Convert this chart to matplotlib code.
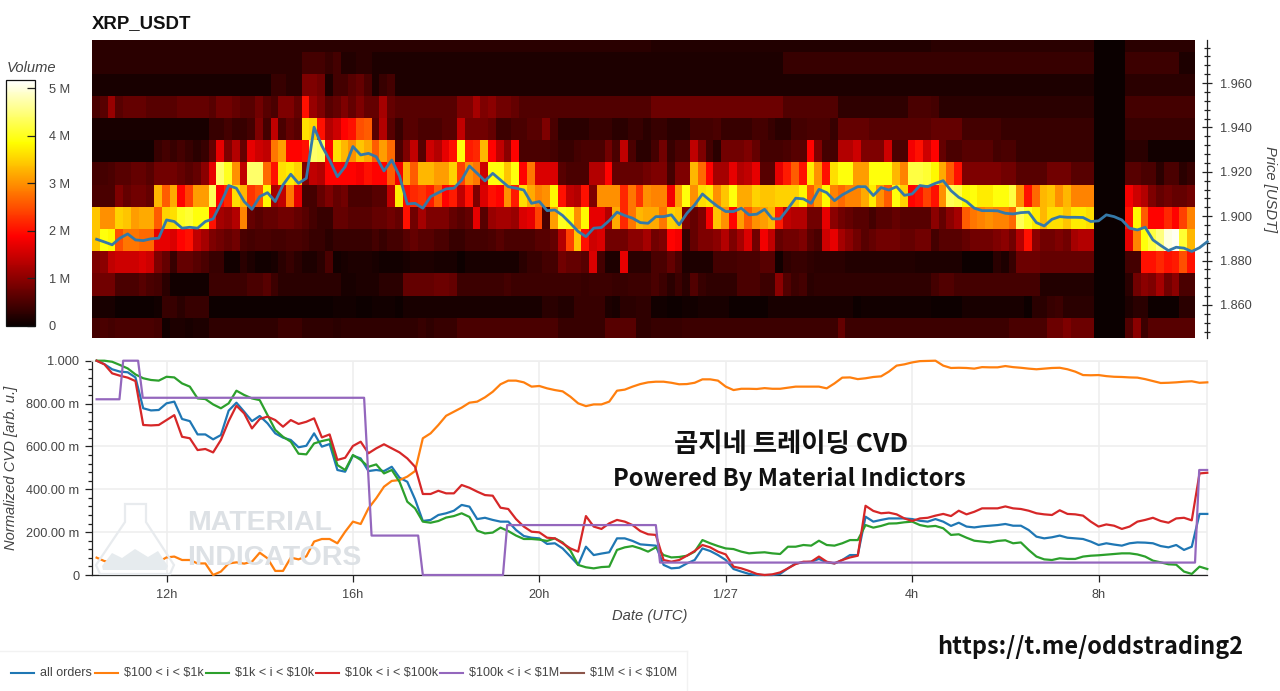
"""XRP_USDT order book heatmap with normalized CVD below it."""

import matplotlib
matplotlib.use("Agg")
import numpy as np
import matplotlib.pyplot as plt
from matplotlib.lines import Line2D
from matplotlib.patches import Polygon
import matplotlib.ticker as mticker

W, H = 1280, 691
SANS = ["Liberation Sans", "DejaVu Sans"]
KR = ["Noto Sans CJK KR", "DejaVu Sans"]
GREY = "#444444"

# volume per 10 minute column, millions, one list per price bin
vol_198 = [.25] * 36 + [.25] * 36 + [.2] * 36 + [.25] * 21 + [0, 0, 0, 0] + [.25] * 9
vol_197 = ([.25] * 27 + [.45, .45, .45, .35, .45, .2, .2, .25, .25]
           + [.15] * 36 + [.15] * 17 + [.35] * 19
           + [.35] * 21 + [0, 0, 0, 0] + [.4] * 7 + [.15, .15])
vol_196 = ([.12] * 23 + [.35, .35, .25, .25, .9, .9, .8, .15, .45, .45, .6, .7, .5]
           + [.15, .35, .45] + [.15] * 33 + [.15] * 36
           + [.15] * 21 + [0, 0, 0, 0] + [.25] * 9)
vol_195 = ([.5, .6, 1.1, .6, .7, .7, .7, .6, .6, .6, .6, .7, .7, .7, .7, .6, .8, .8, .7, .6, .6, .8, .6, .5,
            .9, .9, .7, 2.0, 1.1, .9, .6, .7, .9, .7, .9, .7]
           + [.7, 1.2, .7] + [.6] * 8 + [.9, .9, 1.2, .9, 1.0, .8, .8, .7] + [.55] * 17
           + [.75] * 17 + [.55] * 7 + [.3] * 9 + [.5] * 3
           + [.45] + [.25] * 20 + [0, 0, 0, 0] + [.45] * 9)
vol_194 = ([.12] * 15 + [.35, .35, .45, .35, .35, .45, .9, .45, 1.4, .5, .7, .6, 3.6, 3.5, 2.0, 1.3, 1.5, 1.9, 2.0, 2.5, 2.6]
           + [.6, 1.3, .6, .35, .6, .6, .5, .5, .5, .6, .6, 1.4, .8, .8, .8, .7, .4, .4, .5, .5, .6, .6, .9, .5,
              .25, .25, .25, .25, .35, .35, .35, .25, .25, .35, .35, .25]
           + [.35, .35, .25, .25, .25, .45, .45, .45, .5, .35, .35, .35, .35, .45, .45, .35, .25, .25, .45, .45, .5, .5, .5, .35,
              .7, .7, .7, .7, .6, .6, .6, .6, .6, .6, .6, .6]
           + [.7, .7, .7, .7, .45, .45, .45, .45, .45] + [.35] * 12 + [0, 0, 0, 0] + [.35] * 9)
vol_193 = ([.08] * 8 + [.35, .45, .35, .45, .35, .25, .35, .7, 1.7, .9, 1.3, .7, 1.7, 1.5, 1.4, 2.8, 3.1, 1.9, 1.9, 2.0,
                        4.4, 4.3, 1.9, 3.6, 3.3, 3.0, 3.4, 3.2]
           + [2.6, 3.1, 2.7, .5, .9, 1.4, .6, 1.5, 1.3, 1.7, 2.0, 3.9, 2.1, 2.2, 3.3, 1.9, 1.4, 1.0, 1.9,
              .5, .5, .5, .5, .45, .35, .35, .45, .5, .5, .5, .8, .5, 1.4, .5, .25, .25]
           + [.45, .8, .35, .5, .5, 1.4, .9, .45, .25, .8, .8, .8, .9, .7, .45, .45, .45, .5, .6, .6,
              1.9, .9, .45, .45, 1.3, 1.3, 1.5, .9, .9, .9, 1.5, .5, .5, 1.8, 2.0, 1.5]
           + [1.9, .7, .5, .5, .6, .6, .6, .6, .45, .5, .5, .35, .35, .35, .35, .35, .35, .35, .35, .35, .35]
           + [0, 0, 0, 0] + [.25, .25, .25, .08, .08, .08, .08, .08, .08])
vol_192 = ([.45, .45, .5, .6, .6, .7, .7, .6, .8, .8, .8, .7, .6, .7, 1.0, 1.7, 4.4, 4.0, 3.0, 1.4, 4.4, 4.4, 2.7, 2.0,
            3.6, 3.7, 3.5, .9, 1.4, 1.3, 1.9, 1.9, 1.9, 1.9, 1.8, 2.0]
           + [1.9, 1.9, 2.6, 1.8, 3.2, 2.6, 3.3, 3.3, 3.1, 3.1, 3.5, 2.4, 3.0, 2.8, 1.5, 3.9, 3.9, 3.4, 3.9, 1.9,
              2.8, 1.6, 1.6, 1.6, .6, .5, .5, .5, 1.3, 1.3, 1.9, .7, .7, .7, .7, .8]
           + [.9, .9, .45, .9, .9, 3.3, 2.7, 1.9, 1.2, 1.2, 1.7, 1.3, 1.4, 1.7, .6, .6, 1.7, 2.1, 2.6, 2.0,
              3.7, 3.0, 2.0, 3.6, 3.9, 3.9, 3.1, 3.1, 3.9, 3.9, 3.9, 3.3, 2.9, 4.2, 4.2, 4.1]
           + [3.8, 3.2, 2.6, 2.0, .9, .9, .9, .9, .9, .8, .8, .6, .6, .6, .6, .8, .8, .8, .6, .6, .6]
           + [0, 0, 0, 0] + [.6, .6, .5, .5, .25, .5, .5, .25, .35])
vol_191 = ([.5, .5, .5, .9, .7, .8, .8, .7, 3.3, 2.6, 3.2, 1.9, 2.4, 3.1, 3.1, 4.3, 1.9, 2.2, 3.6, 3.3,
            2.3, 2.5, 3.8, 1.2, 1.4, 2.8, 1.7, .45, .45, .7, .9, .7, .8, .5, .5, .5]
           + [.6, .6, 1.4, 3.7, 2.0, 2.2, 2.3, 2.1, 2.6, 1.9, 2.1, 1.4, 2.0, .9, 1.6, 2.0, 1.9, 3.0, 2.1, 3.6,
              3.2, 2.9, 3.0, 3.8, 2.0, 1.4, 1.3, 2.0, .9, 3.0, 3.0, 3.0, 2.2, 2.8, 2.3, 3.0]
           + [2.9, 2.9, 1.8, 3.1, 3.9, 3.0, 3.6, 3.7, 3.0, 3.4, 3.9, 3.2, 3.2, 3.5, 3.4, 3.4, 3.5, 3.5, 3.5, 3.8,
              2.6, 3.1, 3.8, 2.9, 2.7, 2.9, 2.9, 3.2, 3.7, 3.0, 2.6, 3.9, 3.5, 1.9, 2.0, 2.4]
           + [2.0, 3.0, 4.3, 4.2, 3.8, 3.9, 3.7, 3.7, 3.9, 3.9, 4.2, 3.0, 2.0, 2.7, 3.3, 3.4, 3.0, 3.3, 2.9, 2.9, 2.9]
           + [0, 0, 0, 0] + [1.8, 1.5, 1.3, .9, .7, .8, .7, .7, .8])
vol_190 = ([3.4, 3.0, 3.0, 3.5, 3.4, 3.1, 3.2, 3.2, 2.6, 3.5, 3.6, 4.0, 4.1, 3.9, 3.9, 2.0, 1.2, 1.1, 1.3, 2.9,
            .7, .6, .7, .7, .8, .8, .7, .6, .45, .35, .35, .7, .7, .6, .6, .6]
           + [.7, .7, .8, .7, 2.0, .8, 1.2, .9, .9, .9, .7, .6, .7, 1.7, .6, 1.1, 1.2, 1.2, 1.1, 1.6,
              1.7, 2.4, .5, 3.1, 4.0, 3.9, 3.0, 3.8, 1.7, 1.7, 1.3, 3.2, 2.2, 2.8, 3.3, 3.2]
           + [3.2, 2.8, 3.5, 3.4, .9, .7, .9, 1.8, 3.4, 3.0, 1.9, 3.1, 2.6, 3.0, 3.1, 3.3, 2.1, 1.4, 1.3, 1.3,
              .8, .8, 1.7, 1.0, .8, .7, .6, .6, .45, .6, .6, .7, .6, .6, .6, .6]
           + [1.0, .7, 1.0, 1.2, 2.6, 2.8, 2.9, 3.0, 2.9, 2.9, 2.7, 4.3, 4.0, 3.7, 3.3, 3.6, 3.6, 3.4, 3.7, 3.7, 3.6]
           + [0, 0, 0, 0] + [2.0, 3.8, 2.6, 1.9, 1.9, 2.2, 1.9, 2.4, 2.9])
vol_189 = ([3.4, 3.9, 3.8, 2.5, 2.8, 2.8, 2.7, 2.7, 1.7, 1.7, 1.6, 1.9, 2.0, 1.4, 1.2,
            .9, .8, .7, .8, .5, .45, .5, .5, .45, .45, .5, .5, .45, .35, .35, .25, .35, .35, .35, .35, .35]
           + [.45, .35, .45, .45, .6, .7, .6, .6, .5, .5, .35, .35, .45, .45, .45, .5, .6, .5, .5, .5, .5, .6, .6, .7,
              1.3, 2.4, 3.4, 2.0, 1.5, 1.6, .8, .8, .8, 1.0, 1.0, 1.2]
           + [.8, .9, 1.9, 1.8, .35, .7, .9, .9, 1.0, 1.3, .9, 1.2, 1.6, .8, 1.8, 1.4, .7, .8, .8, .9,
              .6, .5, 1.5, 1.7, 1.2, 1.0, .8, .6, .7, .8, .8, .8, .7, .7, .8, .8]
           + [.45, .6, .6, .6, .7, .8, .8, .8, .9, 1.0, .8, 1.3, 2.0, 1.0, .8, .8, .9, .8, 1.2, 1.3, 1.3]
           + [0, 0, 0, 0] + [1.7, 2.9, 3.9, 4.2, 4.5, 5.0, 5.1, 4.1, 3.3])
vol_188 = ([.9, 1.0, 1.4, 1.5, 1.5, 1.5, 1.6, 1.5, .9, .7, .35, .7, .7, .6, .5, .35, .35, .08, .08, .25,
            .15, .08, .08, .12, .25, .35, .25, .15, .15, .25, .5, .08, .12, .15, .15, .15]
           + [.12, .08, .08, .08, .12, .15, .15, .15, .12, .12, .12, .04, .12, .12, .12, .12, .12, .12, .12, .25,
              .35, .35, .45, .45, .8, .7, .7, .6, 1.6, .45, .15, .15, 1.7, .25, .25, .25]
           + [.5, .5, .7, .5, .15, .15, .15, .15, .45, .45, .45, .5, .5, .5, .6, .6, .08,
              .3, .35, .35, .3, .25, .25, .25, .25] + [.2] * 9 + [.15, .15]
           + [.15] * 4 + [.04] * 4 + [.25, .15, .35, .75, .75, .75] + [.7] * 7
           + [0, 0, 0, 0] + [.45, .45, 2.0, 2.0, 2.2, 2.0, 2.1, 2.5, 2.0])
vol_187 = ([.8, .8, .8, .5, .5, .5, .6, .5, .45, .25, .08, .08, .08, .08, .08, .4, .4, .4, .4, .4,
            .5, .5, .6, .4, .25, .25, .25, .25, .25, .25, .25, .25, .12, .12, .15, .15]
           + [.15, .25, .25, .25, .7, .7, .7, .7, .75, .75, .7, .4,
              .4, .4, .4, .4, .4, .45, .4, .4, .4, .4, .4, .4, .4, .4, .4, .35, .4, .4, .4, .35, .35, .4, .4, .4]
           + [.5, .4, .25, .4, .25, .55, .35, .3, .3, .3, .3, .5, .5, .5, .4, .4, 1.0,
              .55, .4, .45, .25, .3] + [.3] * 14
           + [.45, .55, .55, .45] + [.45] * 10 + [.2] * 7
           + [0, 0, 0, 0] + [.25, .8, 1.0, .9, 1.2, .8, 1.0, .5, .5])
vol_186 = ([.12, .12, .12, .04, .04, .04, .04, .04, .08, .35, .35, .25, .35, .35, .35] + [.04] * 16 + [.08, .08, .08, .04, .04]
           + [.08, .08, .08, .04] + [.12] * 18 + [.25, .25, .2, .2, .35, .35, .35, .35, .15, .12, .25, .25, .3, .3]
           + [.08, .08, .04, .04, .08, .08, .12, .12, .12, .12] + [.04] * 5 + [.12] * 11 + [.04] + [.08] * 9
           + [.04] * 4 + [.12] * 8 + [.04, .25, .25, .35, .4, .25, .25, .25, .25]
           + [0, 0, 0, 0] + [.15, .25, .25, .04, .04, .04, .04, .25, .25])
vol_185 = ([.45, .5, .45, .5, .5, .5, .5, .5, .45, .08, .15, .15, .12, .15, .15] + [.3] * 9
           + [.4, .4, .4, .3, .3, .3, .3, .25, .3, .3, .3, .3]
           + [.3] * 6 + [.35, .3, .35, .35, .35] + [.5] * 13 + [.35] * 6 + [.6] * 4 + [.3, .3]
           + [.35] * 4 + [.4] * 20 + [.7] + [.4] * 11
           + [.4] * 10 + [.5] * 5 + [.75, .75, .9, .75, .75, .75]
           + [0, 0, 0, 0] + [.55, 1.0, .4, .6, .6, .6, .6, .6, .6])

price_bins = [1.85, 1.86, 1.87, 1.88, 1.89, 1.90, 1.91, 1.92, 1.93, 1.94, 1.95, 1.96, 1.97, 1.98]

# last price every 10 minutes from 10:30
price = [1.8896, 1.8884, 1.8871, 1.8901, 1.8920, 1.8893, 1.8890, 1.8898, 1.8901, 1.8983, 1.8976, 1.8946,
         1.8950, 1.8946, 1.8976, 1.8988, 1.9058, 1.9138, 1.9126, 1.9066, 1.9031, 1.9088, 1.9106, 1.9066,
         1.9141, 1.9189, 1.9148, 1.9171, 1.9401, 1.9317, 1.9253, 1.9178, 1.9223, 1.9314, 1.9276, 1.9283,
         1.9268, 1.9204, 1.9253, 1.9181, 1.9055, 1.9058, 1.9036, 1.9088, 1.9106, 1.9123, 1.9126, 1.9163,
         1.9226, 1.9193, 1.9159, 1.9193, 1.9163, 1.9133, 1.9126, 1.9118, 1.9058, 1.9066, 1.9025, 1.9028,
         1.9003, 1.8968, 1.8931, 1.8908, 1.8946, 1.8949, 1.8980, 1.9018, 1.9003, 1.8991, 1.8971, 1.8968,
         1.8998, 1.8998, 1.9006, 1.8961, 1.9013, 1.9051, 1.9100, 1.9070, 1.9043, 1.9021, 1.9021, 1.9036,
         1.9006, 1.9009, 1.9031, 1.8988, 1.8988, 1.9033, 1.9081, 1.9078, 1.9058, 1.9121, 1.9106, 1.9070,
         1.9096, 1.9115, 1.9133, 1.9133, 1.9093, 1.9129, 1.9118, 1.9133, 1.9094, 1.9100, 1.9138, 1.9133,
         1.9148, 1.9160, 1.9115, 1.9085, 1.9066, 1.9036, 1.9025, 1.9025, 1.9024, 1.9013, 1.9010, 1.9016,
         1.9018, 1.8971, 1.8956, 1.8986, 1.8998, 1.8995, 1.8995, 1.8994, 1.8976, 1.8979, 1.9006, 1.8998,
         1.8983, 1.8946, 1.8938, 1.8950, 1.8893, 1.8868, 1.8845, 1.8860, 1.8856, 1.8841, 1.8858, 1.8885]

# normalized CVD, same 10 minute steps
cvd_all = [1.0, .984, .960, .949, .946, .922, .778, .768, .770, .801, .809, .728, .718, .656, .656, .633,
           .653, .767, .804, .762, .718, .742, .708, .661, .641, .630, .596, .603, .661, .599, .611, .490,
           .482, .557, .544, .485, .490, .485, .505, .454, .435, .353, .252, .257, .280, .288, .300, .327,
           .319, .261, .267, .257, .249, .249, .210, .182, .174, .171, .145, .148, .124, .086, .047, .132,
           .093, .100, .106, .171, .171, .159, .143, .140, .137, .047, .031, .034, .054, .070, .124, .112,
           .093, .070, .028, .016, .005, 0, 0, 0, .005, .031, .054, .059, .062, .075, .059, .054,
           .070, .093, .093, .272, .249, .257, .264, .264, .264, .261, .253, .249, .261, .249, .229, .244,
           .226, .222, .227, .230, .233, .238, .230, .230, .210, .179, .171, .176, .184, .174, .171, .168,
           .156, .140, .148, .142, .137, .148, .152, .151, .148, .135, .129, .140, .117, .132, .285, .285]
cvd_100 = [.081, .065, .059, .067, .068, .062, .053, .062, .062, .082, .086, .070, .070, .054, .054, 0,
           .016, .054, .059, .053, .062, .104, .078, .019, .019, .081, .073, .087, .156, .168, .168, .148,
           .202, .249, .238, .311, .358, .412, .439, .443, .459, .485, .638, .661, .700, .743, .762, .781,
           .804, .809, .829, .855, .890, .907, .907, .899, .879, .882, .871, .863, .857, .832, .801, .788,
           .796, .796, .809, .860, .865, .879, .891, .899, .902, .902, .897, .890, .891, .897, .913, .913,
           .907, .879, .863, .869, .869, .868, .872, .869, .869, .874, .879, .879, .879, .879, .871, .894,
           .921, .922, .914, .918, .924, .927, .949, .977, .983, .992, .998, .999, 1.0, .977, .966, .967,
           .966, .963, .970, .969, .969, .975, .970, .967, .963, .960, .963, .966, .967, .960, .949, .933,
           .932, .933, .928, .925, .924, .922, .921, .914, .905, .896, .897, .899, .902, .904, .897, .899]
cvd_1k = [1.0, 1.0, .995, .980, .964, .936, .918, .910, .907, .925, .922, .894, .879, .824, .821, .796,
          .778, .801, .860, .840, .824, .816, .746, .677, .645, .622, .566, .563, .614, .625, .633, .513,
          .490, .560, .537, .505, .516, .474, .490, .435, .342, .311, .249, .244, .252, .268, .275, .288,
          .271, .207, .194, .198, .221, .205, .184, .168, .168, .165, .159, .171, .152, .114, .047, .036,
          .031, .037, .039, .117, .129, .135, .124, .109, .129, .093, .082, .084, .090, .109, .163, .148,
          .135, .124, .121, .109, .101, .104, .106, .101, .098, .132, .132, .140, .137, .160, .140, .137,
          .148, .163, .163, .233, .221, .229, .240, .241, .246, .249, .233, .226, .229, .218, .187, .190,
          .174, .160, .156, .152, .159, .162, .148, .152, .117, .086, .073, .070, .078, .075, .075, .086,
          .090, .092, .095, .098, .101, .101, .096, .086, .067, .059, .050, .048, .016, .005, .039, .028]
cvd_10k = [1.0, .983, .941, .930, .921, .905, .700, .698, .700, .723, .746, .645, .638, .583, .588, .572,
           .630, .718, .790, .754, .684, .728, .739, .723, .692, .723, .705, .715, .731, .642, .656, .537,
           .547, .602, .622, .568, .591, .610, .591, .572, .544, .505, .378, .378, .393, .381, .381, .420,
           .407, .389, .373, .370, .314, .308, .261, .226, .202, .199, .174, .171, .148, .124, .109, .275,
           .226, .215, .241, .257, .249, .233, .205, .190, .187, .070, .062, .070, .090, .112, .140, .129,
           .109, .096, .039, .031, .019, .005, 0, .003, .012, .031, .051, .062, .062, .086, .062, .054,
           .070, .082, .090, .323, .299, .288, .291, .283, .264, .252, .264, .267, .277, .285, .275, .300,
           .283, .295, .311, .311, .311, .320, .311, .308, .300, .288, .283, .280, .302, .285, .283, .277,
           .249, .226, .236, .230, .215, .226, .249, .257, .267, .252, .244, .264, .267, .255, .474, .477]

# the $100k - $1M series only moves in steps, so it has its own time stamps
cvd_100k_t = [10.5, 10.99, 11.07, 11.39, 11.49, 16.24, 16.40, 17.40, 17.50, 19.22, 19.31, 22.50, 22.59,
              34.07, 34.16, 34.33]
cvd_100k = [.82, .82, 1.0, 1.0, .827, .827, .184, .184, 0, 0, .233, .233, .058, .058, .49, .49]

cvd_labels = ["all orders", "$100 < i < $1k", "$1k < i < $10k", "$10k < i < $100k", "$100k < i < $1M",
              "$1M < i < $10M"]
cvd_colors = ["#1f77b4", "#ff7f0e", "#2ca02c", "#d62728", "#9467bd", "#8c564b"]

hour_ticks = [12, 16, 20, 24, 28, 32]
hour_labels = ["12h", "16h", "20h", "1/27", "4h", "8h"]
cvd_ticks = [0, .2, .4, .6, .8, 1.0]
cvd_tick_labels = ["0", "200.00 m", "400.00 m", "600.00 m", "800.00 m", "1.000"]
price_ticks = [1.86, 1.88, 1.90, 1.92, 1.94, 1.96]
vol_ticks = [0, 1, 2, 3, 4, 5]
vol_tick_labels = ["0", "1 M", "2 M", "3 M", "4 M", "5 M"]


def px_axes(fig, left, top, right, bottom):
    """Axes placed by its pixel box, origin top left."""
    return fig.add_axes([left / W, 1 - bottom / H, (right - left) / W, (bottom - top) / H])


def fx(x):
    return x / W


def fy(y):
    return 1 - y / H


def px_points(points):
    return [(fx(x), fy(y)) for x, y in points]


plt.rcParams["font.family"] = SANS
fig = plt.figure(figsize=(W / 100, H / 100), dpi=100, facecolor="white")

t_left, t_right = 10.401, 34.327
line_t = 10.5 + np.arange(len(price)) / 6

# heatmap
ax_heat = px_axes(fig, 92, 40, 1207, 338)
rows = [vol_185, vol_186, vol_187, vol_188, vol_189, vol_190, vol_191, vol_192, vol_193, vol_194, vol_195,
        vol_196, vol_197, vol_198]
assert all(len(r) == 142 for r in rows), [len(r) for r in rows]
volume = np.array(rows)
t_edges = t_left + np.arange(volume.shape[1] + 1) / 6
# bins sit a little under the round price in the source picture
p_edges = np.array(price_bins + [price_bins[-1] + .01]) - .0058
mesh = ax_heat.pcolormesh(t_edges, p_edges, volume, cmap="hot", vmin=0, vmax=5.17, shading="flat")
ax_heat.plot(line_t, price, color="#3579a8", lw=2.0, clip_on=False, zorder=3, solid_joinstyle="round")
ax_heat.set_xlim(t_left, t_right)
ax_heat.set_ylim(1.8451, 1.9794)
for side in ["left", "top", "bottom"]:
    ax_heat.spines[side].set_visible(False)
ax_heat.spines["right"].set_color("#222222")
ax_heat.spines["right"].set_linewidth(.9)
ax_heat.set_xticks([])
ax_heat.yaxis.tick_right()
ax_heat.set_yticks(price_ticks)
ax_heat.yaxis.set_major_formatter(mticker.FormatStrFormatter("%.3f"))
ax_heat.yaxis.set_minor_locator(mticker.MultipleLocator(.004))
ax_heat.tick_params(axis="y", which="major", direction="inout", length=7, width=.9, labelsize=9.2,
                    labelcolor=GREY, color="#222222", pad=6)
ax_heat.tick_params(axis="y", which="minor", direction="inout", length=4, width=.9, color="#222222")
fig.text(fx(1270), fy(189), "Price [USDT]", rotation=270, style="italic", fontsize=10.6, color=GREY,
         ha="center", va="center")
fig.text(fx(92), fy(24), "XRP_USDT", fontsize=13.4, fontweight="bold", color="#111111", ha="left", va="center")

# volume colour bar
cax = px_axes(fig, 6, 80, 35, 326)
cbar = fig.colorbar(mesh, cax=cax, ticks=vol_ticks)
cbar.ax.set_yticklabels(vol_tick_labels)
cbar.ax.tick_params(direction="in", length=6, width=.9, color="#222222", labelsize=9.2, labelcolor=GREY, pad=10)
cbar.outline.set_edgecolor("#111111")
cbar.outline.set_linewidth(.9)
fig.text(fx(7), fy(68), "Volume", style="italic", fontsize=10.6, color=GREY, ha="left", va="center")

# CVD
ax_cvd = px_axes(fig, 92, 360.7, 1207, 575)
ax_cvd.set_xlim(t_left, t_right)
ax_cvd.set_ylim(0, 1)
ax_cvd.set_axisbelow(True)
ax_cvd.grid(True, color="#eeeeee", lw=1.1)
for series, color in zip([cvd_all, cvd_100, cvd_1k, cvd_10k], cvd_colors):
    ax_cvd.plot(line_t, series, color=color, lw=1.6, clip_on=False, zorder=3)
ax_cvd.plot(cvd_100k_t, cvd_100k, color=cvd_colors[4], lw=1.6, clip_on=False, zorder=4)
ax_cvd.set_xticks(hour_ticks)
ax_cvd.set_xticklabels(hour_labels)
ax_cvd.set_yticks(cvd_ticks)
ax_cvd.set_yticklabels(cvd_tick_labels)
ax_cvd.yaxis.set_minor_locator(mticker.MultipleLocator(.04))
ax_cvd.tick_params(axis="x", which="major", direction="out", length=5, width=.9, labelsize=9.2,
                   labelcolor=GREY, color="#222222", pad=5)
ax_cvd.tick_params(axis="y", which="major", direction="out", length=5, width=.9, labelsize=9.2,
                   labelcolor=GREY, color="#222222", pad=4)
ax_cvd.tick_params(axis="y", which="minor", direction="out", length=3, width=.9, color="#222222")
for side in ["top", "right"]:
    ax_cvd.spines[side].set_color("#eeeeee")
    ax_cvd.spines[side].set_linewidth(1.1)
for side in ["left", "bottom"]:
    ax_cvd.spines[side].set_color("#222222")
    ax_cvd.spines[side].set_linewidth(.9)
fig.text(fx(11), fy(468), "Normalized CVD [arb. u.]", rotation=90, style="italic", fontsize=10.6, color=GREY,
         ha="center", va="center")
fig.text(fx(650), fy(616), "Date (UTC)", style="italic", fontsize=10.6, color=GREY, ha="center", va="center")

# watermark
flask = [(125, 504), (146, 504), (146, 522), (174, 565), (170, 574), (100, 574), (96, 565), (125, 522)]
fig.add_artist(Polygon(px_points(flask), closed=True, fc="none", ec="#e8ebee", lw=1.6, zorder=1.5,
                       transform=fig.transFigure))
hills = [(102, 566), (112, 553), (122, 558), (135, 549), (148, 557), (158, 551), (168, 566), (166, 570), (103, 570)]
fig.add_artist(Polygon(px_points(hills), closed=True, fc="#e6ebee", ec="none", zorder=1.5,
                       transform=fig.transFigure))
for label, y in [("MATERIAL", 523), ("INDICATORS", 558)]:
    fig.text(fx(187), fy(y), label, fontweight="bold", fontsize=20.5, color="#dde1e5", ha="left", va="center",
             zorder=1.5)

# text added on top of the chart
fig.text(fx(791), fy(445), "곰지네 트레이딩 CVD", family=KR, fontweight="bold", fontsize=19, color="#111111",
         ha="center", va="center")
fig.text(fx(789), fy(479), "Powered By Material Indictors", family=KR, fontweight="bold", fontsize=17.1,
         color="#111111", ha="center", va="center")
fig.text(fx(1090), fy(647), "https://t.me/oddstrading2", family=KR, fontweight="bold", fontsize=16.9,
         color="#111111", ha="center", va="center")

# legend strip
fig.add_artist(Line2D([0, fx(687)], [fy(651), fy(651)], color="#f2f2f2", lw=1, transform=fig.transFigure))
fig.add_artist(Line2D([fx(687), fx(687)], [fy(651), 0], color="#f2f2f2", lw=1, transform=fig.transFigure))
legend_x = [11, 95, 206, 316, 440, 561]
for x, label, color in zip(legend_x, cvd_labels, cvd_colors):
    fig.add_artist(Line2D([fx(x), fx(x + 23)], [fy(673), fy(673)], color=color, lw=1.5, transform=fig.transFigure))
    fig.text(fx(x + 29), fy(673), label, fontsize=9.0, color=GREY, ha="left", va="center", parse_math=False)

fig.savefig("out.png", dpi=100, facecolor="white")
